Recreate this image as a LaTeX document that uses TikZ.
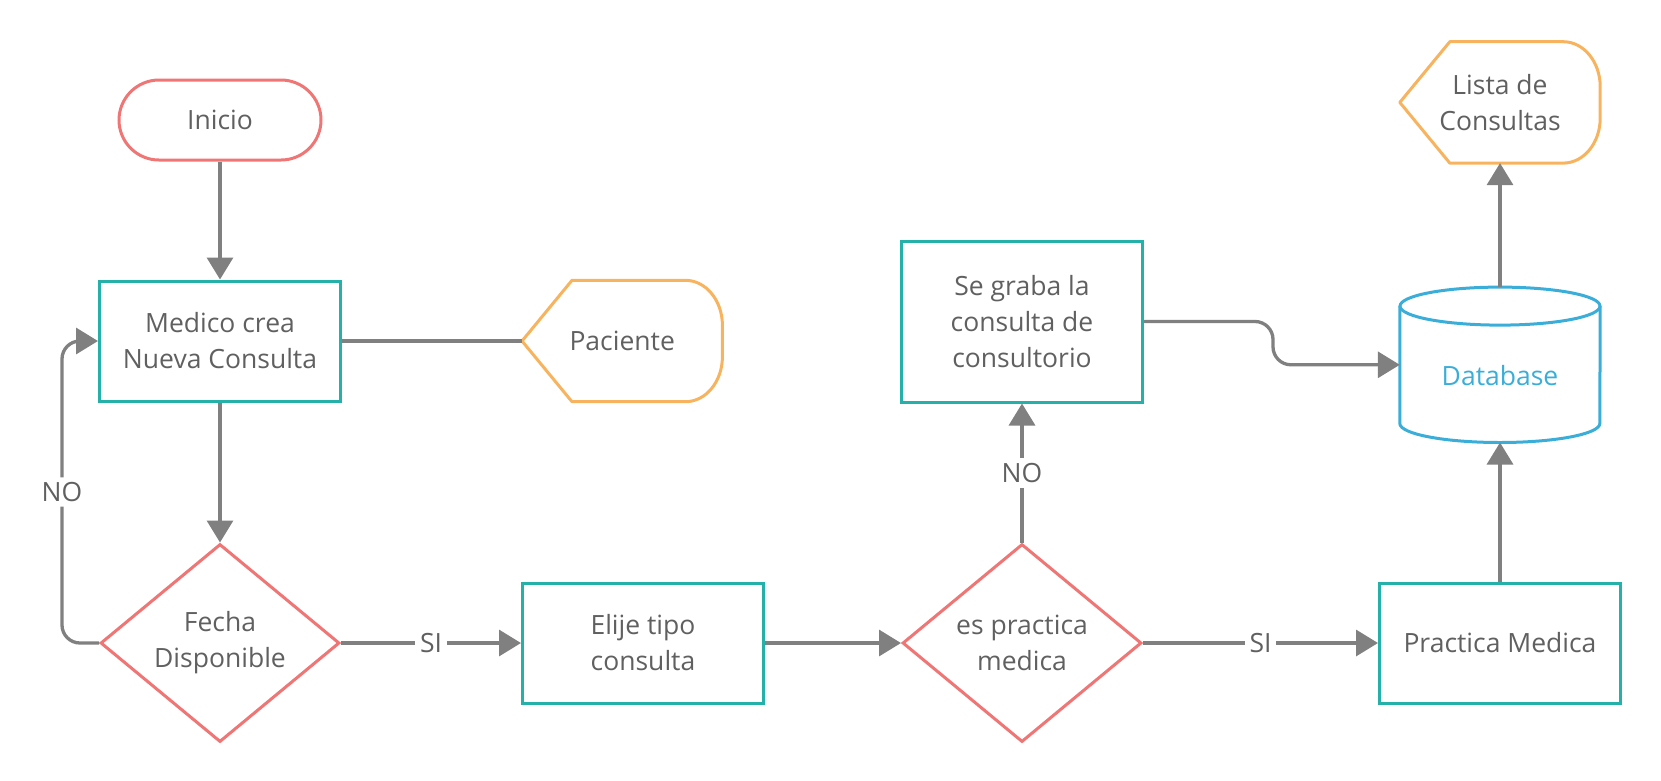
\documentclass[tikz,border=0pt]{standalone}
\usepackage{fontspec}
\setmainfont{Open Sans}
\usetikzlibrary{shapes, arrows.meta, positioning}
\definecolor{boxteal}{RGB}{38,176,170}
\definecolor{flowred}{RGB}{240,117,117}
\definecolor{dataorange}{RGB}{248,179,94}
\definecolor{dbblue}{RGB}{58,174,216}
\definecolor{linegray}{RGB}{128,128,128}
\definecolor{textgray}{RGB}{96,96,96}

\begin{document}
\begin{tikzpicture}[
        x=1pt, y=1pt,
        every node/.style={font=\fontsize{26.5}{36}\selectfont, text=textgray, align=center},
        terminal/.style={rectangle, draw=flowred, line width=3pt, rounded corners=40pt, minimum width=202pt, minimum height=80pt},
        process/.style={rectangle, draw=boxteal, line width=3pt, minimum width=241pt, minimum height=120pt, inner sep=0pt},
        decision/.style={diamond, draw=flowred, line width=3pt, minimum width=239pt, minimum height=198pt, aspect=1.2, inner sep=0pt},
        display/.style={rectangle, minimum width=200pt, minimum height=121pt, inner sep=0pt},
        store/.style={rectangle, minimum width=200pt, minimum height=155pt, inner sep=0pt},
        outline/.style={draw=dataorange, line width=3pt, line join=round},
        dbline/.style={draw=dbblue, line width=3pt},
        line/.style={draw=linegray, line width=3.3pt},
        arrow/.style={line, -{Triangle[length=22pt, width=26pt]}},
        lbl/.style={fill=white, inner sep=5pt}
    ]
        \useasboundingbox (0,0) rectangle (1661,-780);

        % Left column
        \node[terminal] (inicio) at (220,-120) {Inicio};
        \node[process, below=118pt of inicio] (medico) {Medico crea\\Nueva Consulta};
        \node[display, right=180pt of medico] (paciente) {Paciente};
        \node[decision, below=140pt of medico] (fecha) {Fecha\\Disponible};

        % Bottom row
        \node[process, right=180pt of fecha] (elije) {Elije tipo\\consulta};
        \node[decision, right=136pt of elije] (practica) {es practica\\medica};
        \node[process, above=139pt of practica, minimum height=161pt] (graba) {Se graba la\\consulta de\\consultorio};
        \node[process, right=235pt of practica] (medica) {Practica Medica};

        % Right column
        \node[store, above=139pt of medica] (database) {};
        \node[text=dbblue] (dbname) at ([yshift=-11pt]database.center) {Database};
        \node[display, above=124pt of database] (lista) {Lista de\\Consultas};

        % Display outlines
        \draw[outline] ([xshift=50pt]paciente.north west) -- (paciente.west) -- ([xshift=50pt]paciente.south west)
            -- ([xshift=-37pt]paciente.south east) arc[start angle=-90, end angle=0, x radius=37pt, y radius=45pt]
            -- ([yshift=-45pt]paciente.north east) arc[start angle=0, end angle=90, x radius=37pt, y radius=45pt] -- cycle;
        \draw[outline] ([xshift=50pt]lista.north west) -- (lista.west) -- ([xshift=50pt]lista.south west)
            -- ([xshift=-37pt]lista.south east) arc[start angle=-90, end angle=0, x radius=37pt, y radius=45pt]
            -- ([yshift=-45pt]lista.north east) arc[start angle=0, end angle=90, x radius=37pt, y radius=45pt] -- cycle;

        % Database outline
        \draw[dbline] ([yshift=-19pt]database.north west) -- ([yshift=19pt]database.south west)
            arc[start angle=180, end angle=360, x radius=100pt, y radius=19pt] -- ([yshift=-19pt]database.north east);
        \draw[dbline] ([yshift=-19pt]database.north) ellipse[x radius=100pt, y radius=19pt];

        % Connectors
        \draw[arrow] (inicio) -- (medico);
        \draw[line] (medico.east) -- (paciente.west);
        \draw[arrow] (medico) -- (fecha);
        \draw[arrow, rounded corners=18pt] (fecha.west) -- ++(-37,0) |- node[pos=0.25, lbl] {NO} (medico.west);
        \draw[arrow] (fecha.east) -- node[lbl] {SI} (elije.west);
        \draw[arrow] (elije.east) -- (practica.west);
        \draw[arrow] (practica.north) -- node[lbl] {NO} (graba.south);
        \draw[arrow] (practica.east) -- node[lbl] {SI} (medica.west);
        \draw[arrow] (medica.north) -- (database.south);
        \draw[arrow] (database.north) -- (lista.south);
        \draw[arrow, rounded corners=18pt] (graba.east) -- ++(129,0) |- (database.west);
    \end{tikzpicture}
\end{document}
